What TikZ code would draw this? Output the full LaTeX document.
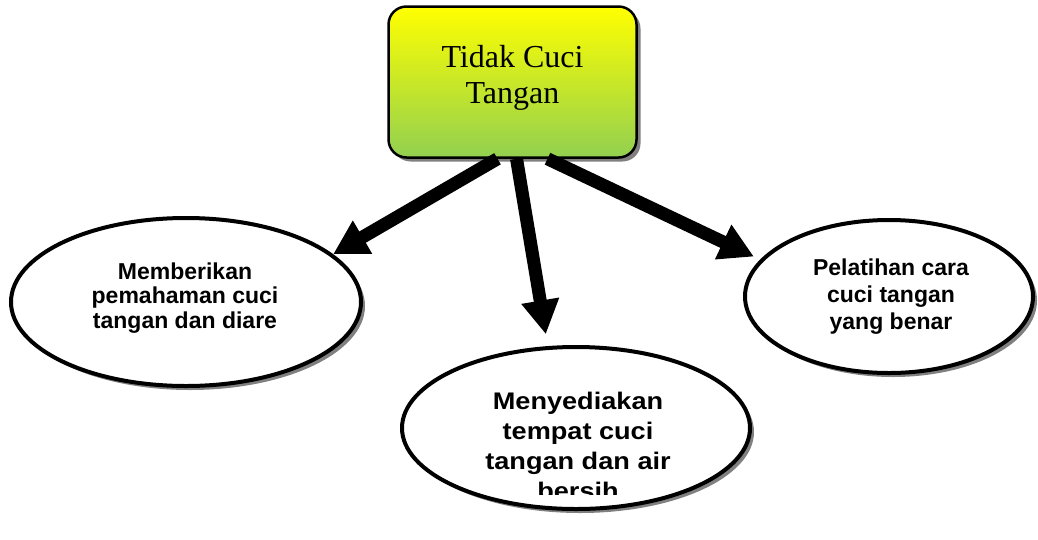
\documentclass[tikz,border=0pt]{standalone}
\usepackage{fontspec}
\setmainfont{Liberation Serif}
\newfontfamily\isiSans{Liberation Sans}
\newfontfamily\isiLebar[FakeStretch=1.13]{Liberation Sans}
\usetikzlibrary{shapes.geometric,shadows,arrows.meta}
\definecolor{kuning}{RGB}{255,255,0}
\definecolor{hijau}{RGB}{146,208,80}
\definecolor{bayang}{RGB}{128,128,128}

\begin{document}
\begin{tikzpicture}[x=1pt,y=-1pt]
\tikzstyle{every node}+=[inner sep=0pt]
\tikzstyle{bayangan}=[drop shadow={shadow xshift=4pt,shadow yshift=-4pt,fill=bayang,opacity=1}]
\tikzstyle{masalah}=[draw,line width=2.5pt,rounded corners=18pt,top color=kuning,bottom color=hijau,
  minimum width=248pt,minimum height=151pt,bayangan]
\tikzstyle{solusi}=[ellipse,draw,line width=4pt,fill=white,bayangan]
\tikzstyle{teks}=[align=center,font=\isiSans\bfseries\fontsize{23}{24.5}\selectfont]
\tikzstyle{panah}=[line width=13pt,-{Triangle[width=36pt,length=34pt]}]
\useasboundingbox (0,0) rectangle (1038,539);

% kotak masalah
\node [masalah] (tidak) at (512.5,82) {};
\node [align=center,font=\fontsize{32}{36}\selectfont] (judul) at (512.5,78) {Tidak Cuci\\Tangan};

% elips solusi
\node [solusi,minimum width=350pt,minimum height=168pt] (beri) at (186,302) {};
\node [teks] (beriteks) at (185,298) {Memberikan\\pemahaman cuci\\tangan dan diare};
\node [solusi,minimum width=348pt,minimum height=162pt] (sedia) at (576,428) {};
\begin{scope}
\clip (400,340) rectangle (752,494);
\node [align=center,font=\isiLebar\bfseries\fontsize{24}{30}\selectfont] (sediateks) at (578,446)
  {Menyediakan\\tempat cuci\\tangan dan air\\bersih};
\end{scope}
\node [solusi,minimum width=288pt,minimum height=153pt] (latih) at (889,296.5) {};
\node [teks,font=\isiSans\bfseries\fontsize{23}{27}\selectfont] (latihteks) at (891,296.5) {Pelatihan cara\\cuci tangan\\yang benar};

% panah
\draw [panah] ([xshift=-15pt]tidak.south) -- (beri.18);
\draw [panah,shorten >=12pt] ([xshift=4pt]tidak.south) -- (sedia.109);
\draw [panah,shorten >=7pt] ([xshift=35pt]tidak.south) -- (latih.164);
\end{tikzpicture}
\end{document}
